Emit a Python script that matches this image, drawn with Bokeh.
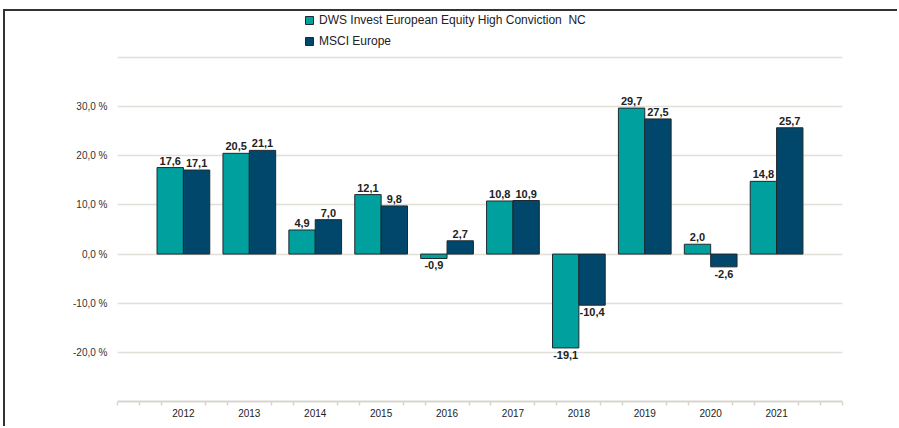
from bokeh.plotting import figure
from bokeh.models import (ColumnDataSource, FixedTicker, Legend, LegendItem, LabelSet)
from bokeh.core.properties import value
from bokeh.embed import file_html
from bokeh.resources import INLINE

years = ["2012", "2013", "2014", "2015", "2016", "2017", "2018", "2019", "2020", "2021"]
dws = [17.6, 20.5, 4.9, 12.1, -0.9, 10.8, -19.1, 29.7, 2.0, 14.8]
msci = [17.1, 21.1, 7.0, 9.8, 2.7, 10.9, -10.4, 27.5, -2.6, 25.7]
y_ticks = [-20, -10, 0, 10, 20, 30]
series_names = ["DWS Invest European Equity High Conviction  NC", "MSCI Europe"]

TEAL = "#00a09f"
NAVY = "#00476b"
FONT = "Liberation Sans"

idx = list(range(len(years)))

def fmt(v):
    return ("%.1f" % v).replace(".", ",")

W, H = 894, 417
FL, FR, FB = 112, 57, 27
frame_h = H - 0 - FB          # 390 px from 49.36 % down to -30 %
px_per = 344 / 70.0
y_top = -30 + frame_h / px_per

p = figure(width=W, height=H, x_range=(-1, 10), y_range=(-30, y_top),
           output_backend="svg", toolbar_location=None,
           min_border_left=FL, min_border_right=FR, min_border_top=0, min_border_bottom=FB)
p.outline_line_color = None

src1 = ColumnDataSource(dict(x=[i - 0.2 for i in idx], top=dws))
src2 = ColumnDataSource(dict(x=[i + 0.2 for i in idx], top=msci))

r1 = p.vbar(x="x", top="top", bottom=0, width=0.4, source=src1,
            fill_color=TEAL, line_color="#1e2a2e", line_width=1)
r2 = p.vbar(x="x", top="top", bottom=0, width=0.4, source=src2,
            fill_color=NAVY, line_color="#1e2a2e", line_width=1)

for xs, vals in ((src1.data["x"], dws), (src2.data["x"], msci)):
    for sign in (1, -1):
        sel = [i for i in idx if (vals[i] >= 0) == (sign == 1)]
        s = ColumnDataSource(dict(x=[xs[i] for i in sel], y=[vals[i] for i in sel],
                                  t=[fmt(vals[i]) for i in sel]))
        p.add_layout(LabelSet(x="x", y="y", text="t", source=s,
                              y_offset=3 if sign == 1 else -3,
                              text_align="center",
                              text_baseline="bottom" if sign == 1 else "top",
                              text_font=value(FONT), text_font_size=value("11px"),
                              text_font_style="bold", text_color="#222222"))

# y axis
p.yaxis.ticker = FixedTicker(ticks=y_ticks)
p.yaxis.major_label_overrides = {t: fmt(t) + " %" for t in y_ticks}
p.yaxis.axis_line_color = None
p.yaxis.major_tick_line_color = None
p.yaxis.minor_tick_line_color = None
p.yaxis.major_label_standoff = 4
p.yaxis.major_label_text_font = FONT
p.yaxis.major_label_text_font_size = "10px"
p.yaxis.major_label_text_color = "#333333"

p.ygrid.ticker = FixedTicker(ticks=y_ticks + [40])
p.ygrid.grid_line_color = "#e2dfd8"
p.ygrid.grid_line_width = 1.5
p.xgrid.grid_line_color = None

# x axis
minor = []
for i in range(-1, 10):
    minor += [i + 1/3, i + 2/3]
minor += [-1, 10]
p.xaxis.ticker = FixedTicker(ticks=idx, minor_ticks=minor)
p.xaxis.major_label_overrides = {i: y for i, y in zip(idx, years)}
p.xaxis.axis_line_color = "#d9d5cd"
p.xaxis.axis_line_width = 2
p.xaxis.major_tick_line_color = None
p.xaxis.minor_tick_line_color = "#d9d5cd"
p.xaxis.minor_tick_line_width = 1.5
p.xaxis.minor_tick_out = 4
p.xaxis.minor_tick_in = 0
p.xaxis.major_label_standoff = 1
p.xaxis.major_label_text_font = FONT
p.xaxis.major_label_text_font_size = "10px"
p.xaxis.major_label_text_color = "#222222"

legend = Legend(items=[LegendItem(label=series_names[0], renderers=[r1]),
                       LegendItem(label=series_names[1], renderers=[r2])],
                location=(187, 353), orientation="vertical",
                glyph_width=10, glyph_height=10, label_height=12,
                label_standoff=5, spacing=7, padding=0, margin=0,
                border_line_color=None, background_fill_alpha=0,
                label_text_font=FONT, label_text_font_size="12px",
                label_text_color="#222222")
p.add_layout(legend, "center")

p.styles = {"border-left": "2px solid #333333", "border-top": "2px solid #333333",
            "margin-left": "3px", "margin-top": "9px"}

open("out.html", "w").write(file_html(p, INLINE))
